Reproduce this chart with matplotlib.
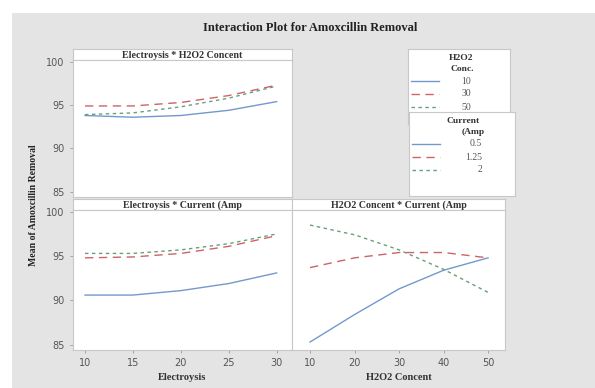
import matplotlib
matplotlib.use("Agg")
import matplotlib.pyplot as plt
from matplotlib.patches import Rectangle
from matplotlib.lines import Line2D

# Data
electro_x = [10, 15, 20, 25, 30]
h2o2_x = [10, 20, 30, 40, 50]

# Electroysis * H2O2 Concent (lines per H2O2 level)
h2o2_levels = ["10", "30", "50"]
el_h2o2 = {
    "10": [93.8, 93.6, 93.8, 94.4, 95.4],
    "30": [94.9, 94.9, 95.3, 96.1, 97.3],
    "50": [93.9, 94.1, 94.8, 95.8, 97.2],
}

# Electroysis * Current (Amp (lines per current level)
current_levels = ["0.5", "1.25", "2"]
el_current = {
    "0.5": [90.6, 90.6, 91.1, 91.9, 93.1],
    "1.25": [94.8, 94.9, 95.3, 96.1, 97.3],
    "2": [95.3, 95.3, 95.7, 96.4, 97.5],
}

# H2O2 Concent * Current (Amp
h2o2_current = {
    "0.5": [85.3, 88.4, 91.3, 93.4, 94.8],
    "1.25": [93.7, 94.8, 95.4, 95.4, 94.8],
    "2": [98.5, 97.4, 95.7, 93.5, 90.9],
}

colors = ["#7399cc", "#cc6468", "#66a078"]
styles = ["-", (0, (6, 4)), (0, (2.5, 2.5))]

W, H = 595, 388
fig = plt.figure(figsize=(W / 100, H / 100), dpi=100)
fig.patch.set_facecolor("white")
fig.patches.append(Rectangle((12 / W, 0), 1, 1 - 13 / H, transform=fig.transFigure,
                             facecolor="#e4e4e4", edgecolor="none", zorder=-10))

serif = "Liberation Serif"
frame = "#c8c8c8"


def box(l, t, w, h):
    return [l / W, 1 - (t + h) / H, w / W, h / H]


def panel(l, t, w, h, title, xs, data, levels, xlim, xticks, xlabel=None,
          show_x=True):
    strip = fig.add_axes(box(l, t, w, 11))
    strip.set_xticks([])
    strip.set_yticks([])
    for s in strip.spines.values():
        s.set_color(frame)
    strip.text(0.5, 0.45, title, ha="center", va="center", fontsize=7.2,
               family=serif, fontweight="bold", color="#333333")
    ax = fig.add_axes(box(l, t + 11, w, h - 11))
    for i, lev in enumerate(levels):
        ax.plot(xs, data[lev], color=colors[i], linestyle=styles[i], lw=1.0)
    ax.set_xlim(*xlim)
    ax.set_ylim(84.4, 100.2)
    ax.set_yticks([85, 90, 95, 100])
    ax.set_xticks(xticks)
    for s in ax.spines.values():
        s.set_color(frame)
    ax.tick_params(colors="#999999", labelcolor="#555555", labelsize=7,
                   length=2.5, width=0.6)
    if not show_x:
        ax.tick_params(axis="x", bottom=False, labelbottom=False)
    if xlabel:
        ax.set_xlabel(xlabel, fontsize=7.5, family=serif, fontweight="bold",
                      color="#333333", labelpad=3)
    return ax


ax1 = panel(73, 49, 219, 148, "Electroysis * H2O2 Concent", electro_x, el_h2o2,
            h2o2_levels, (8.75, 31.6), electro_x, show_x=False)
ax2 = panel(73, 199, 219, 151, "Electroysis * Current (Amp", electro_x,
            el_current, current_levels, (8.75, 31.6), electro_x,
            xlabel="Electroysis")
ax3 = panel(292, 199, 213, 151, "H2O2 Concent * Current (Amp", h2o2_x,
            h2o2_current, current_levels, (5.95, 53.8), h2o2_x,
            xlabel="H2O2 Concent")
ax3.tick_params(axis="y", left=False, labelleft=False)

fig.text(310 / W, 1 - 28 / H, "Interaction Plot for Amoxcillin Removal",
         ha="center", va="center", fontsize=9, family=serif, fontweight="bold",
         color="#222222")
fig.text(34 / W, 1 - 205 / H, "Mean of Amoxcillin Removal", rotation=90,
         ha="center", va="center", fontsize=7, family=serif, fontweight="bold",
         color="#222222")


def legend_box(l, t, w, h, titles, levels, label_x):
    lax = fig.add_axes(box(l, t, w, h))
    lax.set_xlim(0, w)
    lax.set_ylim(h, 0)
    lax.set_xticks([])
    lax.set_yticks([])
    lax.set_facecolor("white")
    for s in lax.spines.values():
        s.set_color(frame)
    for j, (txt, tx) in enumerate(titles):
        lax.text(tx, 9 + j * 11, txt, ha="center", va="center", fontsize=6.8,
                 family=serif, fontweight="bold", color="#333333")
    for i, lev in enumerate(levels):
        y = 32 + i * 13
        lax.add_line(Line2D([3, 31], [y, y], color=colors[i],
                            linestyle=styles[i], lw=1.0))
        lax.text(label_x, y, lev, ha="right", va="center", fontsize=7,
                 family=serif, color="#555555")
    return lax


legend_box(408, 49, 102, 75, [("H2O2", 53), ("Conc.", 54)], h2o2_levels, 63)
legend_box(409, 112, 106, 84, [("Current", 54), ("(Amp", 64)],
           current_levels, 73)

fig.savefig("out.png", dpi=100, facecolor=fig.get_facecolor())
